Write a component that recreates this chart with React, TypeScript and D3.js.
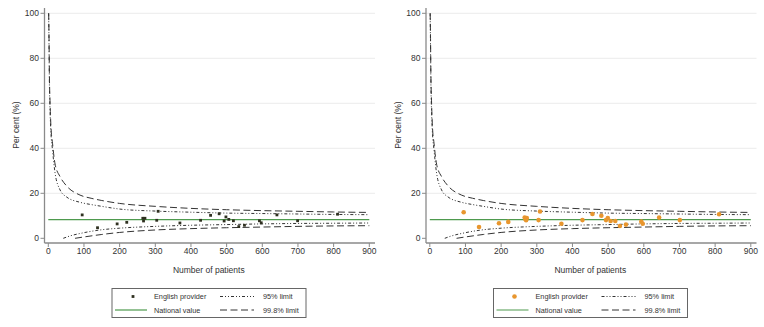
import React from "react";
import * as d3 from "d3";

const xTicks = [0, 100, 200, 300, 400, 500, 600, 700, 800, 900];
const yTicks = [0, 20, 40, 60, 80, 100];
const nationalValue = 8.3;

const leftN = [95, 138, 193, 220, 265, 267, 271, 304, 308, 369, 427, 455, 479, 493, 498, 506, 519, 534, 550, 592, 597, 641, 699, 811];
const leftV = [10.4, 4.7, 6.4, 7.1, 8.9, 7.7, 8.9, 8.0, 12.0, 6.8, 8.0, 10.2, 10.9, 7.7, 9.5, 8.4, 7.8, 5.2, 5.8, 7.8, 6.9, 10.4, 7.8, 10.7];

const rightN = [95, 138, 194, 220, 266, 268, 272, 270, 305, 309, 369, 428, 456, 481, 494, 499, 507, 520, 533, 550, 593, 597, 643, 701, 811];
const rightV = [11.6, 5.0, 6.7, 7.3, 9.2, 8.6, 9.0, 8.0, 8.1, 11.9, 6.5, 8.1, 10.8, 10.0, 8.1, 9.0, 7.7, 7.7, 5.5, 6.1, 7.4, 6.5, 9.2, 8.1, 10.7];

const upperN = [1, 2, 3, 5, 7, 12, 19, 33, 50, 89, 120, 150, 200, 300, 400, 500, 600, 700, 800, 900];
const upper998 = [100, 90, 74, 60, 51, 42, 33, 27.4, 23.5, 19.2, 17.8, 16.8, 15.5, 14.2, 13.3, 12.7, 12.3, 12.0, 11.7, 11.5];
const upper95 = [100, 86, 70, 56, 48, 39, 29, 21.5, 18.5, 16.0, 15.0, 14.2, 13.0, 12.1, 11.6, 11.2, 11.0, 10.8, 10.6, 10.5];

const lower95N = [42, 60, 100, 145, 200, 300, 400, 500, 600, 700, 800, 900];
const lower95 = [0, 1.0, 2.5, 3.7, 4.5, 5.3, 5.8, 6.1, 6.4, 6.6, 6.7, 6.8];
const lower998N = [75, 100, 150, 200, 300, 400, 500, 600, 700, 800, 900];
const lower998 = [0, 0.6, 1.7, 2.6, 3.7, 4.3, 4.7, 5.0, 5.3, 5.5, 5.6];

const FONT = "'Liberation Sans', Arial, sans-serif";
const DASH95 = "3,2,1,2,1,2";
const DASH998 = "7,3.5";

function Panel({ ox, ns, vs, color, square }: { ox: number; ns: number[]; vs: number[]; color: string; square: boolean }) {
  const x = d3.scaleLinear().domain([0, 900]).range([ox + 48.3, ox + 369.3]);
  const y = d3.scaleLinear().domain([0, 100]).range([238.3, 13.3]);
  const axisX = ox + 44.5;
  const axisY = 243;
  const right = ox + 375;
  const mk = (n: number[], v: number[]) =>
    d3.line<number>().x((_, i) => x(n[i])).y((_, i) => y(v[i])).curve(d3.curveMonotoneX)(n) || "";
  const lg = ox + 112;
  return (
    <g fontFamily={FONT}>
      {yTicks.filter((t) => t > 0).map((t) => (
        <line key={"g" + t} x1={axisX} x2={right} y1={y(t)} y2={y(t)} stroke="#ececec" strokeWidth={1} />
      ))}
      <line x1={axisX} x2={axisX} y1={8} y2={axisY} stroke="#8a8a8a" strokeWidth={1.3} />
      <line x1={axisX} x2={right} y1={axisY} y2={axisY} stroke="#8a8a8a" strokeWidth={1.3} />
      {yTicks.map((t) => (
        <g key={"y" + t}>
          <line x1={axisX - 4} x2={axisX} y1={y(t)} y2={y(t)} stroke="#8a8a8a" strokeWidth={1} />
          <text x={axisX - 5.5} y={y(t) + 3} fontSize={8.5} textAnchor="end" fill="#333">{t}</text>
        </g>
      ))}
      {xTicks.map((t) => (
        <g key={"x" + t}>
          <line x1={x(t)} x2={x(t)} y1={axisY} y2={axisY + 4} stroke="#8a8a8a" strokeWidth={1} />
          <text x={x(t)} y={axisY + 11} fontSize={8.5} textAnchor="middle" fill="#333">{t}</text>
        </g>
      ))}
      <text x={(x(0) + x(900)) / 2} y={273} fontSize={8.5} textAnchor="middle" fill="#333">Number of patients</text>
      <text transform={`translate(${ox + 19},${125}) rotate(-90)`} fontSize={8.5} textAnchor="middle" fill="#333">Per cent (%)</text>

      <path d={mk(upperN, upper998)} fill="none" stroke="#333" strokeWidth={1} strokeDasharray={DASH998} />
      <path d={mk(upperN, upper95)} fill="none" stroke="#333" strokeWidth={1} strokeDasharray={DASH95} />
      <path d={mk(lower998N, lower998)} fill="none" stroke="#333" strokeWidth={1} strokeDasharray={DASH998} />
      <path d={mk(lower95N, lower95)} fill="none" stroke="#333" strokeWidth={1} strokeDasharray={DASH95} />
      <line x1={x(0)} x2={x(900)} y1={y(nationalValue)} y2={y(nationalValue)} stroke="#4e9a4e" strokeWidth={1.2} />
      {ns.map((n, i) =>
        square ? (
          <rect key={"p" + i} x={x(n) - 1.4} y={y(vs[i]) - 1.4} width={2.8} height={2.8} fill={color} />
        ) : (
          <circle key={"p" + i} cx={x(n)} cy={y(vs[i])} r={2.3} fill={color} />
        )
      )}

      <rect x={lg} y={288.5} width={194} height={29} fill="white" stroke="#666" strokeWidth={1} />
      {square ? (
        <rect x={lg + 21 - 1.4} y={296.5 - 1.4} width={2.8} height={2.8} fill={color} />
      ) : (
        <circle cx={lg + 21} cy={296.5} r={2.3} fill={color} />
      )}
      <text x={lg + 42} y={299.3} fontSize={7.3} fill="#333">English provider</text>
      <line x1={lg + 3} x2={lg + 35} y1={310} y2={310} stroke="#4e9a4e" strokeWidth={1.2} />
      <text x={lg + 42} y={312.8} fontSize={7.3} fill="#333">National value</text>
      <line x1={lg + 108} x2={lg + 142} y1={296.5} y2={296.5} stroke="#333" strokeWidth={1} strokeDasharray={DASH95} />
      <text x={lg + 151} y={299.3} fontSize={7.3} fill="#333">95% limit</text>
      <line x1={lg + 108} x2={lg + 142} y1={310} y2={310} stroke="#333" strokeWidth={1} strokeDasharray={DASH998} />
      <text x={lg + 151} y={312.8} fontSize={7.3} fill="#333">99.8% limit</text>
    </g>
  );
}

export default function App() {
  return (
    <svg width={764} height={327} style={{ position: "absolute", left: 0, top: 0, background: "white" }}>
      <rect x={0} y={0} width={764} height={327} fill="white" />
      <Panel ox={0} ns={leftN} vs={leftV} color="#2f3020" square={true} />
      <Panel ox={381.5} ns={rightN} vs={rightV} color="#e8962e" square={false} />
    </svg>
  );
}
